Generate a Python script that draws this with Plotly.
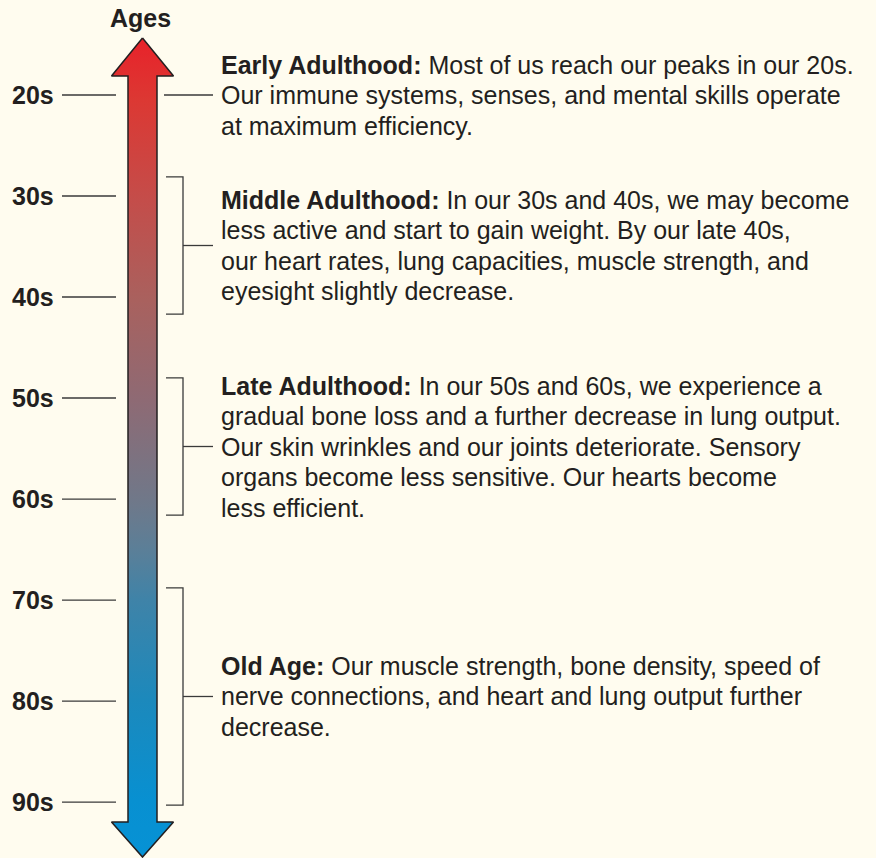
import plotly.graph_objects as go

# ---- data ----
ages = [20, 30, 40, 50, 60, 70, 80, 90]
age_labels = ["20s", "30s", "40s", "50s", "60s", "70s", "80s", "90s"]

stage_titles = ["Early Adulthood:", "Middle Adulthood:", "Late Adulthood:", "Old Age:"]
stage_lines = [
    ["Most of us reach our peaks in our 20s.",
     "Our immune systems, senses, and mental skills operate",
     "at maximum efficiency."],
    ["In our 30s and 40s, we may become",
     "less active and start to gain weight. By our late 40s,",
     "our heart rates, lung capacities, muscle strength, and",
     "eyesight slightly decrease."],
    ["In our 50s and 60s, we experience a",
     "gradual bone loss and a further decrease in lung output.",
     "Our skin wrinkles and our joints deteriorate. Sensory",
     "organs become less sensitive. Our hearts become",
     "less efficient."],
    ["Our muscle strength, bone density, speed of",
     "nerve connections, and heart and lung output further",
     "decrease."],
]
stage_start = [20, 28.1, 48.0, 68.8]
stage_end = [20, 41.7, 61.6, 90.3]

# arrow extent in age units
arrow_tip_top = 14.36
arrow_head_top = 18.12
arrow_head_bottom = 91.98
arrow_tip_bottom = 95.45

arrow_colorscale = [
    [0.0, "#E8222A"], [0.076, "#DC3833"], [0.198, "#C44D4A"],
    [0.32, "#A9615E"], [0.442, "#8E6A74"], [0.564, "#707889"],
    [0.625, "#5B7F98"], [0.686, "#3F83A8"], [0.808, "#1C89BC"],
    [0.93, "#0890D1"], [1.0, "#0692D5"],
]

# ---- style ----
BG = "#FFFCEF"
INK = "#231F20"
LINE = "#3a3a3a"
FONT = "Liberation Sans, Arial, Helvetica, sans-serif"
FS = 25
LINE_STEP = 3.02  # line spacing in age units (~30.5 px)

fig = go.Figure()

# arrow polygon with vertical gradient
cx, shaft_half, head_half = 142.5, 14.5, 31
ax = [cx, cx + head_half, cx + shaft_half, cx + shaft_half, cx + head_half, cx,
      cx - head_half, cx - shaft_half, cx - shaft_half, cx - head_half, cx]
ay = [arrow_tip_top, arrow_head_top, arrow_head_top, arrow_head_bottom, arrow_head_bottom,
      arrow_tip_bottom, arrow_head_bottom, arrow_head_bottom, arrow_head_top, arrow_head_top,
      arrow_tip_top]
fig.add_trace(go.Scatter(
    x=ax, y=ay, mode="lines", fill="toself",
    fillgradient=dict(type="vertical", colorscale=arrow_colorscale,
                      start=arrow_tip_top, stop=arrow_tip_bottom),
    line=dict(color=INK, width=1.5), hoverinfo="skip", showlegend=False,
))

# left tick lines
tx, ty = [], []
for a in ages:
    tx += [62, 116, None]
    ty += [a, a, None]
# stage brackets
for s, e in zip(stage_start, stage_end):
    if s == e:
        tx += [164, 213, None]
        ty += [s, s, None]
    else:
        m = (s + e) / 2
        tx += [166, 183, 183, 166, None, 183, 213, None]
        ty += [s, s, e, e, None, m, m, None]
fig.add_trace(go.Scatter(x=tx, y=ty, mode="lines", line=dict(color=LINE, width=1.3),
                         hoverinfo="skip", showlegend=False))

# tick labels
for a, lab in zip(ages, age_labels):
    fig.add_annotation(x=56, y=a, text=f"<b>{lab}</b>", showarrow=False,
                       xanchor="right", yanchor="middle",
                       font=dict(family=FONT, size=FS, color=INK))

fig.add_annotation(x=140, y=12.4, text="<b>Ages</b>", showarrow=False,
                   xanchor="center", yanchor="middle",
                   font=dict(family=FONT, size=FS, color=INK))

# stage texts, one annotation per line
for t, lines, s, e in zip(stage_titles, stage_lines, stage_start, stage_end):
    m = (s + e) / 2
    n = len(lines)
    for k, ln in enumerate(lines):
        txt = (f"<b>{t}</b> " + ln) if k == 0 else ln
        fig.add_annotation(x=219, y=m + (k - (n - 1) / 2) * LINE_STEP, text=txt,
                           showarrow=False, xanchor="left", yanchor="middle", align="left",
                           font=dict(family=FONT, size=FS, color=INK))

fig.update_layout(
    width=876, height=858, margin=dict(l=0, r=0, t=0, b=0),
    paper_bgcolor=BG, plot_bgcolor=BG,
    xaxis=dict(range=[0, 876], visible=False, fixedrange=True),
    yaxis=dict(range=[95.54, 10.594], visible=False, fixedrange=True),
)

fig.write_html("out.html", config={"displayModeBar": False, "staticPlot": True},
               post_script="document.body.style.margin='0px';document.body.style.background='#FFFCEF';")
